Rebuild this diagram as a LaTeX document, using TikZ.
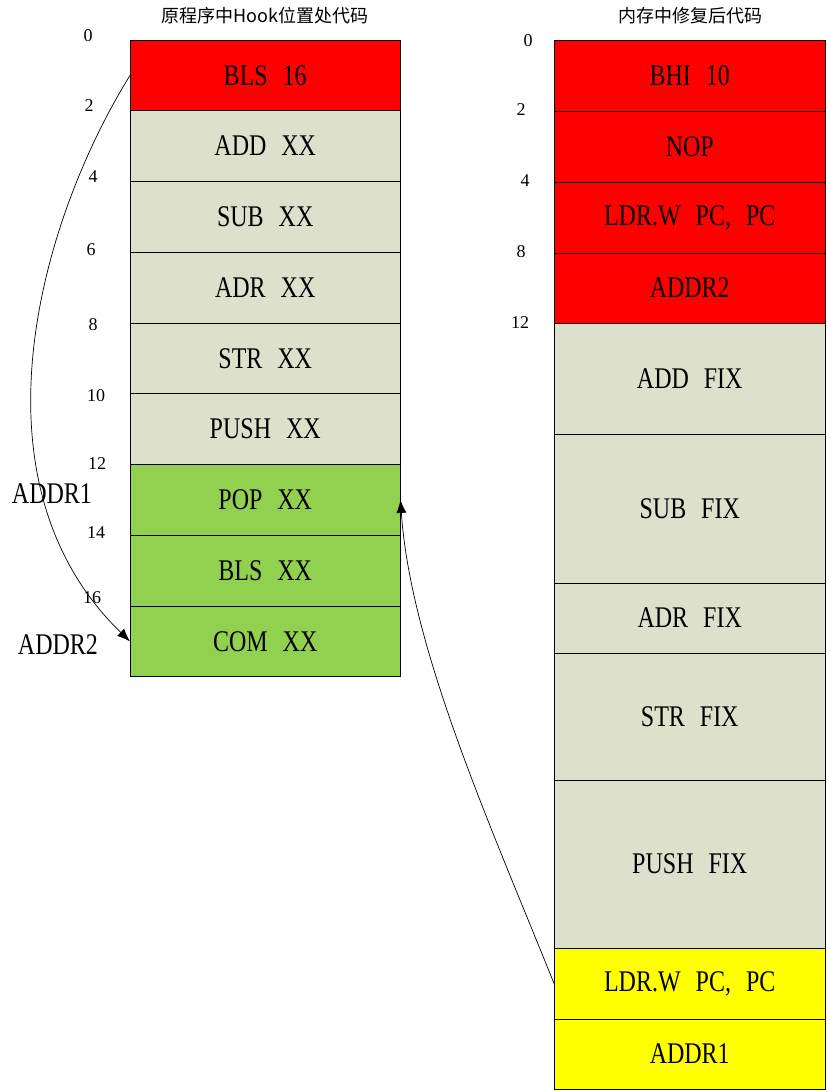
\documentclass[tikz,border=0pt]{standalone}
\usepackage{fontspec}
\setmainfont{Liberation Serif}
\newfontfamily\cjk{Noto Sans CJK SC}
\newfontfamily\narrow[FakeStretch=0.8]{Liberation Serif}
\usetikzlibrary{arrows.meta}
\definecolor{hookred}{RGB}{255,0,0}
\definecolor{oldgray}{RGB}{221,224,203}
\definecolor{popgreen}{RGB}{146,208,80}
\definecolor{jmpyellow}{RGB}{255,255,0}
\newcommand\opgap{\hspace{15pt}}

\begin{document}
\begin{tikzpicture}[x=1pt,y=-1pt,
  cell/.style={draw=black,line width=0.8pt,inner sep=0pt,outer sep=0pt,font=\narrow\fontsize{30}{31}\selectfont},
  lcell/.style={cell,minimum width=270.5,minimum height=70.75},
  off/.style={font=\fontsize{18}{19}\selectfont},
  addr/.style={font=\narrow\fontsize{30}{31}\selectfont},
  title/.style={font=\cjk\fontsize{18}{19}\selectfont},
  jump/.style={-{Latex[length=13pt,width=10pt]},line width=0.7pt}]
\useasboundingbox[fill=white] (0,0) rectangle (827,1092);
\node[title] (ttl) at (265,16) {原程序中Hook位置处代码};
\node[title] (ttr) at (690,16) {内存中修复后代码};
\node[lcell,fill=hookred] (bls) at (265.25,75.4) {BLS\opgap 16};
\node[lcell,fill=oldgray] (add) at (265.25,146.1) {ADD\opgap XX};
\node[lcell,fill=oldgray] (sub) at (265.25,216.9) {SUB\opgap XX};
\node[lcell,fill=oldgray] (adr) at (265.25,287.6) {ADR\opgap XX};
\node[lcell,fill=oldgray] (str) at (265.25,358.4) {STR\opgap XX};
\node[lcell,fill=oldgray] (push) at (265.25,429.1) {PUSH\opgap XX};
\node[lcell,fill=popgreen] (pop) at (265.25,499.9) {POP\opgap XX};
\node[lcell,fill=popgreen] (blsx) at (265.25,570.6) {BLS\opgap XX};
\node[lcell,fill=popgreen] (com) at (265.25,641.4) {COM\opgap XX};
\node[off] (l0) at (88,36) {0};
\node[off] (l2) at (89,106) {2};
\node[off] (l4) at (93,177) {4};
\node[off] (l6) at (91,250) {6};
\node[off] (l8) at (93,325) {8};
\node[off] (l10) at (96,396) {10};
\node[off] (l12) at (97,464) {12};
\node[off] (l14) at (96,533) {14};
\node[off] (l16) at (92,598) {16};
\node[addr] (a1) at (52,494) {ADDR1};
\node[addr] (a2) at (58,645) {ADDR2};
\node[cell,fill=hookred,minimum width=271.5,minimum height=71] (bhi) at (689.75,75.5) {BHI\opgap 10};
\node[cell,fill=hookred,minimum width=271.5,minimum height=71] (nop) at (689.75,146.5) {NOP};
\node[cell,fill=hookred,minimum width=271.5,minimum height=71] (ldra) at (689.75,217.5) {LDR.W\opgap PC,\opgap PC};
\node[cell,fill=hookred,minimum width=271.5,minimum height=70] (addr2) at (689.75,288) {ADDR2};
\node[cell,fill=oldgray,minimum width=271.5,minimum height=111] (addf) at (689.75,378.5) {ADD\opgap FIX};
\node[cell,fill=oldgray,minimum width=271.5,minimum height=149] (subf) at (689.75,508.5) {SUB\opgap FIX};
\node[cell,fill=oldgray,minimum width=271.5,minimum height=70] (adrf) at (689.75,618) {ADR\opgap FIX};
\node[cell,fill=oldgray,minimum width=271.5,minimum height=127] (strf) at (689.75,716.5) {STR\opgap FIX};
\node[cell,fill=oldgray,minimum width=271.5,minimum height=168] (pushf) at (689.75,864) {PUSH\opgap FIX};
\node[cell,fill=jmpyellow,minimum width=271.5,minimum height=71] (ldrb) at (689.75,983.5) {LDR.W\opgap PC,\opgap PC};
\node[cell,fill=jmpyellow,minimum width=271.5,minimum height=70] (addr1) at (689.75,1054) {ADDR1};
\node[off] (r0) at (528,41) {0};
\node[off] (r2) at (521,110) {2};
\node[off] (r4) at (525,181) {4};
\node[off] (r8) at (521,252) {8};
\node[off] (r12) at (520,323) {12};
\draw[jump] (bls.west) .. controls +(-90,145) and +(-165,-160) .. (com.west);
\draw[jump] (ldrb.west) .. controls +(-60,-150) and +(10,150) .. (pop.east);
\end{tikzpicture}
\end{document}
